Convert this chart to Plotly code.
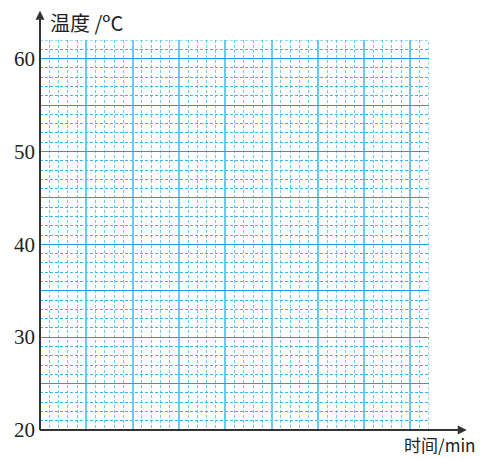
import plotly.graph_objects as go

# Data / labels
x_range = [0, 42]
y_range = [20, 62]
y_tick_values = [20, 25, 30, 35, 40, 45, 50, 55, 60]
y_tick_labels = ["20", "", "30", "", "40", "", "50", "", "60"]
y_title = "温度 /ºC"
x_title = "时间/min"

h_solid = "#1a9fe0"
v_solid = "#6ccaf0"
h_dotted = "#3cb6f2"
v_dotted = "#6cc8f4"
axis_col = "#333333"

fig = go.Figure()
fig.add_trace(go.Scatter(x=[None], y=[None], showlegend=False, hoverinfo="skip"))

fig.update_layout(
    width=495, height=459,
    margin=dict(l=40, r=66, t=40, b=29, pad=0, autoexpand=False),
    paper_bgcolor="white", plot_bgcolor="white",
    showlegend=False,
    font=dict(family="Liberation Serif, Noto Sans CJK SC, serif", color="#222"),
)

fig.update_xaxes(
    range=x_range, showticklabels=False, ticks="", automargin=False,
    showgrid=True, gridcolor=v_solid, gridwidth=1.6, tick0=0, dtick=5,
    minor=dict(showgrid=True, gridcolor=v_dotted, gridwidth=1, griddash="3px,2px", dtick=1, tick0=0),
    zeroline=False, showline=False, fixedrange=True,
)
fig.update_yaxes(
    range=y_range, tickmode="array", tickvals=y_tick_values, ticktext=y_tick_labels,
    ticks="", ticklabelstandoff=4, automargin=False,
    tickfont=dict(size=21, family="Liberation Serif, serif", color="#222"),
    showgrid=True, gridcolor=h_solid, gridwidth=1.2,
    minor=dict(showgrid=True, gridcolor=h_dotted, gridwidth=1, griddash="3px,2px", dtick=1, tick0=20),
    zeroline=False, showline=False, fixedrange=True,
)

# right and top dotted border lines
fig.add_shape(type="line", xref="x", yref="y", x0=x_range[1], x1=x_range[1], y0=y_range[0], y1=y_range[1],
              line=dict(color=h_dotted, width=1, dash="3px,2px"))
fig.add_shape(type="line", xref="x", yref="y", x0=x_range[0], x1=x_range[1], y0=y_range[1], y1=y_range[1],
              line=dict(color=h_dotted, width=1, dash="3px,2px"))

# axes with arrows
fig.add_shape(type="line", xref="paper", yref="paper", x0=0, x1=0, y0=0, y1=1.07,
              line=dict(color=axis_col, width=2))
fig.add_shape(type="line", xref="paper", yref="paper", x0=0, x1=1.09, y0=0, y1=0,
              line=dict(color=axis_col, width=2))
fig.add_annotation(xref="paper", yref="paper", x=0, y=1.075, ax=0, ay=14, text="",
                   showarrow=True, arrowhead=2, arrowsize=1.2, arrowwidth=1.5, arrowcolor=axis_col)
fig.add_annotation(xref="paper", yref="paper", x=1.097, y=0, ax=-14, ay=0, text="",
                   showarrow=True, arrowhead=2, arrowsize=1.2, arrowwidth=1.5, arrowcolor=axis_col)

# axis titles
fig.add_annotation(xref="paper", yref="paper", x=0.02, y=1.003, xanchor="left", yanchor="bottom",
                   text=y_title, showarrow=False,
                   font=dict(size=20, family="Noto Sans CJK SC, Liberation Serif, serif", color="#222"))
fig.add_annotation(xref="paper", yref="paper", x=0.93, y=0.0, xanchor="left", yanchor="top",
                   text=x_title, showarrow=False,
                   font=dict(size=17, family="Noto Sans CJK SC, Liberation Serif, serif", color="#222"))

fig.write_html("out.html", config={"displayModeBar": False},
               post_script="document.body.style.margin='0';document.body.style.padding='0';")
